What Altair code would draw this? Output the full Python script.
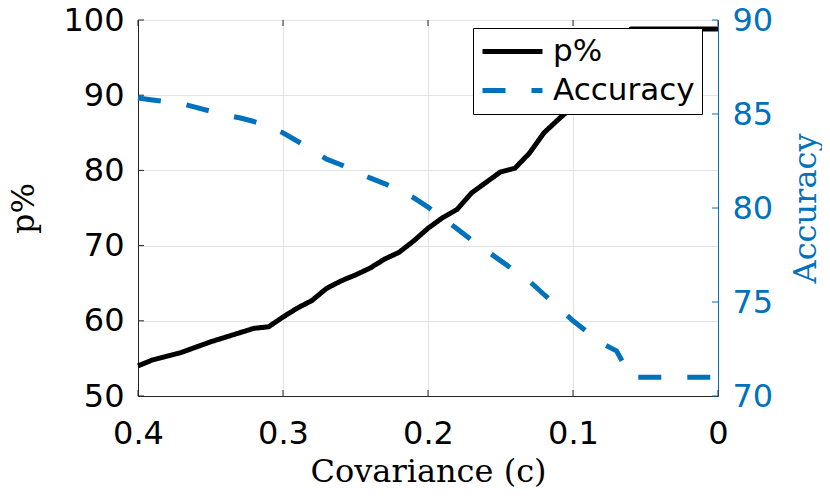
import altair as alt
import pandas as pd

# ---- data ----
C = [0.40, 0.39, 0.38, 0.37, 0.36, 0.35, 0.34, 0.33, 0.32, 0.31,
     0.30, 0.29, 0.28, 0.27, 0.26, 0.25, 0.24, 0.23, 0.22, 0.21,
     0.20, 0.19, 0.18, 0.17, 0.16, 0.15, 0.14, 0.13, 0.12, 0.11,
     0.10, 0.09, 0.08, 0.07, 0.06, 0.05, 0.04, 0.03, 0.02, 0.01, 0.00]
P_PCT = [54.0, 54.8, 55.3, 55.8, 56.5, 57.2, 57.8, 58.4, 59.0, 59.2,
         60.5, 61.7, 62.7, 64.3, 65.3, 66.1, 67.0, 68.2, 69.1, 70.6,
         72.3, 73.7, 74.8, 77.0, 78.4, 79.8, 80.3, 82.3, 85.0, 86.8,
         88.5, 91.0, 93.5, 95.5, 98.8, 98.8, 98.8, 98.8, 98.8, 98.8, 98.8]
ACC = [85.85, 85.75, 85.65, 85.55, 85.35, 85.15, 84.95, 84.8, 84.6, 84.35,
       84.0, 83.55, 83.1, 82.6, 82.3, 81.95, 81.6, 81.3, 80.95, 80.55,
       80.05, 79.45, 78.9, 78.3, 77.75, 77.2, 76.65, 76.1, 75.4, 74.7,
       74.0, 73.4, 72.8, 72.4, 71.0, 71.0, 71.0, 71.0, 71.0, 71.0, 71.0]
SERIES = ["p%", "Accuracy"]
X_TICKS = [0, 0.1, 0.2, 0.3, 0.4]
P_TICKS = [50, 60, 70, 80, 90, 100]
ACC_TICKS = [70, 75, 80, 85, 90]

BLUE = "#0072BD"
DARK = "#262626"
W, H = 580, 376

df_p = pd.DataFrame({"c": C, "p": P_PCT, "series": SERIES[0]})
df_a = pd.DataFrame({"c": C, "acc": ACC, "series": SERIES[1]})
df_xt = pd.DataFrame({"c": X_TICKS})
df_pt = pd.DataFrame({"p": P_TICKS})
df_at = pd.DataFrame({"acc": ACC_TICKS})

x_scale = alt.Scale(domain=[0, 0.4], reverse=True, nice=False, zero=False)
x_enc = alt.X("c:Q", scale=x_scale,
              axis=alt.Axis(values=X_TICKS, format="~g", title="Covariance (c)",
                            grid=True, gridColor="#e3e3e3", ticks=False,
                            labelFlush=False, domainColor=DARK, labelPadding=22,
                            titleBaseline="alphabetic", titleY=85,
                            titleX=W / 2))

legend = alt.Legend(title=None, orient="none", legendX=335, legendY=8,
                    symbolType="stroke", symbolSize=3600, symbolStrokeWidth=5,
                    clipHeight=33, labelFont="DejaVu Sans", labelFontSize=31,
                    labelColor="black", labelOffset=8, padding=7, rowPadding=6,
                    strokeColor="black", fillColor="white", cornerRadius=0)
color = alt.Color("series:N", scale=alt.Scale(domain=SERIES, range=["#000000", BLUE]),
                  legend=legend)
dash = alt.StrokeDash("series:N",
                      scale=alt.Scale(domain=SERIES, range=[[1, 0], [23, 26]]),
                      legend=legend)

p_scale = alt.Scale(domain=[50, 100], nice=False, zero=False)
a_scale = alt.Scale(domain=[70, 90], nice=False, zero=False)

p_line = alt.Chart(df_p).mark_line(strokeWidth=5, strokeJoin="round").encode(
    x=x_enc,
    y=alt.Y("p:Q", scale=p_scale,
            axis=alt.Axis(values=P_TICKS, title="p%", grid=True, gridColor="#e3e3e3",
                          ticks=False, domainColor=DARK, labelPadding=14,
                          titleAngle=270, titleBaseline="middle", titleAlign="center",
                          titleX=-115, titleY=H / 2)),
    color=color, strokeDash=dash)

left_ticks = alt.Chart(df_pt).mark_rule(color=DARK, strokeWidth=1).encode(
    y=alt.Y("p:Q", scale=p_scale), x=alt.value(0), x2=alt.value(6))
bottom_ticks = alt.Chart(df_xt).mark_rule(color=DARK, strokeWidth=1).encode(
    x=alt.X("c:Q", scale=x_scale), y=alt.value(H - 6), y2=alt.value(H))
top_ticks = alt.Chart(df_xt).mark_rule(color=DARK, strokeWidth=1).encode(
    x=alt.X("c:Q", scale=x_scale), y=alt.value(0), y2=alt.value(6))

a_line = alt.Chart(df_a).mark_line(strokeWidth=5, strokeJoin="round").encode(
    x=alt.X("c:Q", scale=x_scale),
    y=alt.Y("acc:Q", scale=a_scale,
            axis=alt.Axis(orient="right", values=ACC_TICKS, title="Accuracy",
                          grid=False, ticks=False, domainColor=BLUE,
                          labelColor=BLUE, titleColor=BLUE, labelPadding=14,
                          titleAngle=270, titleBaseline="middle", titleAlign="center",
                          titleX=87, titleY=H / 2)),
    color=color, strokeDash=dash)

right_ticks = alt.Chart(df_at).mark_rule(color=BLUE, strokeWidth=1).encode(
    y=alt.Y("acc:Q", scale=a_scale), x=alt.value(W - 6), x2=alt.value(W))

left = alt.layer(p_line, left_ticks, bottom_ticks, top_ticks)
right = alt.layer(a_line, right_ticks)

chart = alt.layer(left, right).resolve_scale(y="independent").properties(
    width=W, height=H,
    autosize=alt.AutoSizeParams(type="none"),
    padding={"left": 130, "top": 12, "right": 104, "bottom": 94},
).configure_view(stroke=DARK, strokeWidth=1).configure_axis(
    labelFont="DejaVu Sans", labelFontSize=32, labelColor="black",
    titleFont="DejaVu Serif", titleFontSize=32, titleFontWeight="normal",
    titleColor="black", domainWidth=1,
)

chart.save("out.html", embed_options={"renderer": "svg", "actions": False})
